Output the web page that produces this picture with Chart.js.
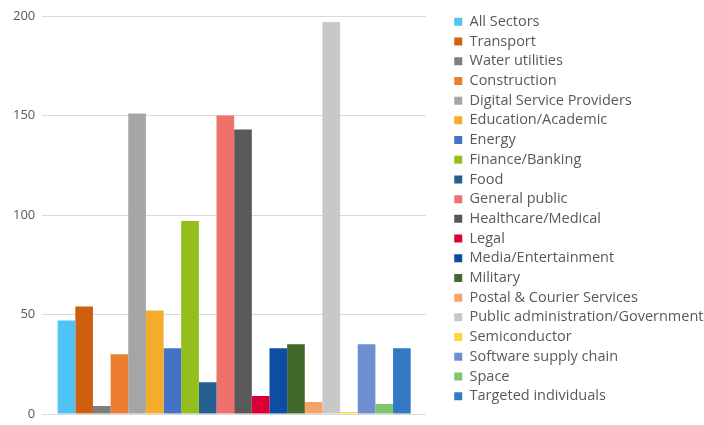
<!DOCTYPE html>
<html>
<head>
<meta charset="utf-8">
<script src="https://cdn.jsdelivr.net/npm/chart.js@4"></script>
<style>
  html, body { margin: 0; padding: 0; background: #fff; }
  #wrap { width: 704px; height: 425px; }
</style>
</head>
<body>
<div id="wrap"><canvas id="chart" width="704" height="425"></canvas></div>
<script>
// Sectors and counts
const sectors = [
  'All Sectors', 'Transport', 'Water utilities', 'Construction',
  'Digital Service Providers', 'Education/Academic', 'Energy',
  'Finance/Banking', 'Food', 'General public', 'Healthcare/Medical',
  'Legal', 'Media/Entertainment', 'Military', 'Postal & Courier Services',
  'Public administration/Government', 'Semiconductor',
  'Software supply chain', 'Space', 'Targeted individuals'
];
const counts = [47, 54, 4, 30, 151, 52, 33, 97, 16, 150, 143, 9, 33, 35, 6, 197, 1, 35, 5, 33];
const colors = [
  '#4fc3f3', '#cf5f10', '#7f7f7f', '#ed7d31', '#a5a5a5', '#f5ab2c',
  '#4472c4', '#92bf1c', '#255e91', '#ef716b', '#595959', '#d9003a',
  '#0b4ea2', '#43682b', '#f4a46a', '#c8c8c8', '#ffd23f', '#6d8fd0',
  '#7fc66b', '#3279c4'
];
const yTicks = [0, 50, 100, 150, 200];

const datasets = sectors.map((name, i) => ({
  label: name,
  data: [counts[i]],
  backgroundColor: colors[i],
  borderWidth: 0,
  categoryPercentage: 0.92,
  barPercentage: 1
}));

new Chart(document.getElementById('chart'), {
  type: 'bar',
  data: { labels: [''], datasets: datasets },
  options: {
    responsive: false,
    animation: false,
    // legend is centred in top..bottom, chart area top comes from the y scale
    layout: { padding: { top: 4, left: 6, bottom: 11, right: -9.5 } },
    plugins: {
      tooltip: { enabled: false },
      legend: {
        position: 'right',
        align: 'center',
        maxWidth: 300,
        labels: {
          boxWidth: 8,
          boxHeight: 8,
          padding: 5.2,
          color: '#595959',
          font: { family: 'Open Sans', size: 14.5 }
        }
      }
    },
    scales: {
      x: { display: false },
      y: {
        min: 0,
        max: yTicks[yTicks.length - 1],
        afterBuildTicks: s => { s.ticks = yTicks.map(v => ({ value: v })); },
        afterFit: s => { s.paddingTop = 16; s.paddingBottom = 0; },
        ticks: { color: '#595959', font: { family: 'Open Sans', size: 13 }, padding: 7 },
        grid: { color: '#d9d9d9', drawTicks: false },
        border: { display: false }
      },
      gap: {
        position: 'right',
        display: true,
        grid: { display: false },
        ticks: { display: false },
        border: { display: false },
        afterFit: s => { s.width = 23; }
      }
    }
  }
});
</script>
</body>
</html>
